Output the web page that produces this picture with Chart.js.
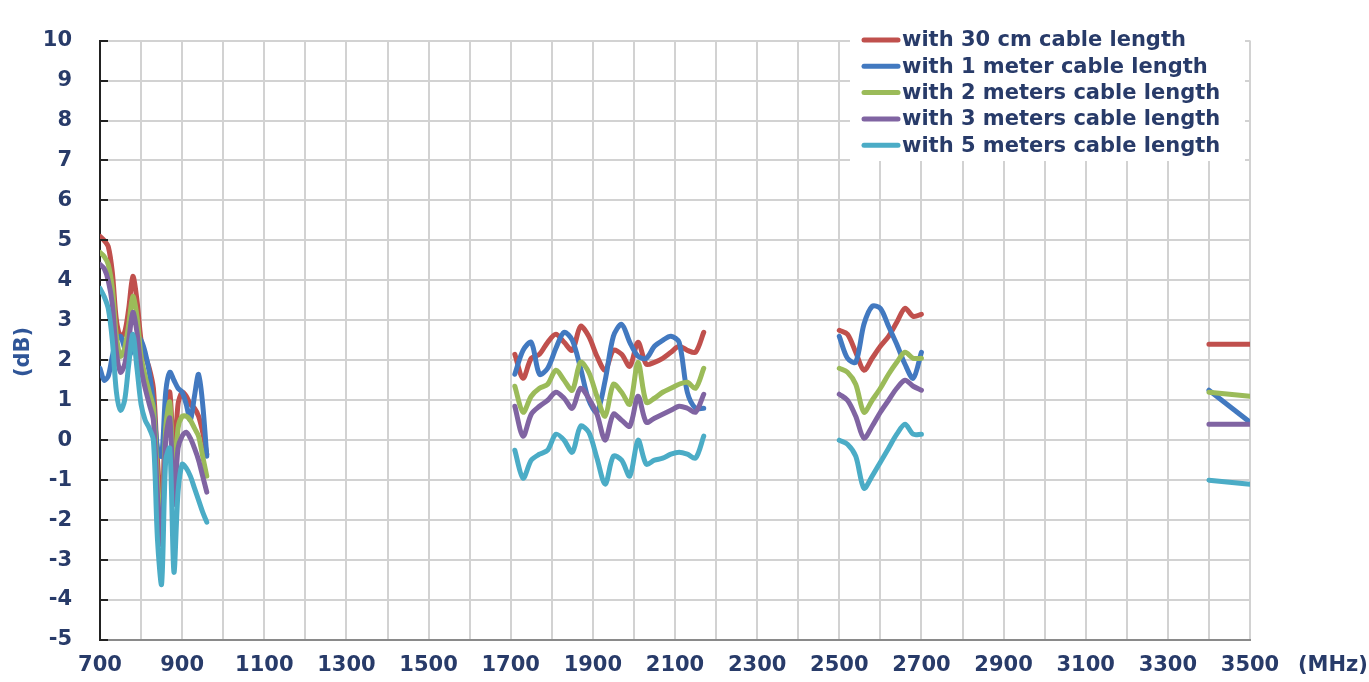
<!DOCTYPE html>
<html>
<head>
<meta charset="utf-8">
<script src="https://cdn.jsdelivr.net/npm/chart.js@4/dist/chart.umd.min.js"></script>
<style>
  html, body { margin: 0; background: #fff; }
  #wrap { width: 1369px; height: 682px; position: relative; }
</style>
</head>
<body>
<div id="wrap"><canvas id="chart"></canvas></div>
<script>
// Frequency points (MHz) of the four measured bands
const freqLow = [700, 710, 720, 730, 740, 750, 760, 770, 780, 790, 800, 810, 820, 830, 840, 850, 860, 870, 880, 890, 900, 910, 920, 930, 940, 950, 960];
const freqMid = [1710, 1730, 1750, 1770, 1790, 1810, 1830, 1850, 1870, 1890, 1910, 1930, 1950, 1970, 1990, 2010, 2030, 2050, 2070, 2090, 2110, 2130, 2150, 2170];
const freqHigh = [2500, 2520, 2540, 2560, 2580, 2600, 2620, 2640, 2660, 2680, 2700];
const freqTop = [3400, 3500];
const bands = [freqLow, freqMid, freqHigh, freqTop];

// dB values per cable, one list per band
const cable30cm = [
  [5.1, 5.0, 4.85, 4.2, 3.0, 2.6, 2.7, 3.3, 4.1, 3.5, 2.5, 2.1, 1.8, 1.3, -0.5, -1.8, 0.5, 1.2, -0.5, 0.9, 1.2, 1.1, 0.9, 0.8, 0.6, 0.2, -0.35],
  [2.15, 1.55, 2.05, 2.15, 2.45, 2.65, 2.45, 2.25, 2.85, 2.6, 2.1, 1.75, 2.25, 2.15, 1.85, 2.45, 1.9, 1.95, 2.05, 2.2, 2.35, 2.25, 2.2, 2.7],
  [2.75, 2.65, 2.2, 1.75, 2.05, 2.35, 2.6, 2.95, 3.3, 3.1, 3.15],
  [2.4, 2.4]
];
const cable1m = [
  [1.8, 1.5, 1.6, 2.1, 2.5, 2.6, 2.3, 2.1, 2.3, 2.6, 2.5, 2.2, 1.7, 0.9, -0.2, -0.4, 1.2, 1.7, 1.5, 1.3, 1.2, 0.9, 0.5, 1.1, 1.65, 0.9, -0.4],
  [1.65, 2.25, 2.45, 1.65, 1.8, 2.3, 2.7, 2.5, 1.8, 1.0, 0.7, 1.5, 2.6, 2.9, 2.45, 2.1, 2.05, 2.35, 2.5, 2.6, 2.45, 1.2, 0.8, 0.8],
  [2.6, 2.05, 1.95, 2.9, 3.35, 3.3, 2.85, 2.4, 1.9, 1.55, 2.2],
  [1.25, 0.45]
];
const cable2m = [
  [4.7, 4.6, 4.4, 3.8, 2.6, 2.1, 2.3, 2.9, 3.6, 3.1, 2.1, 1.6, 1.2, 0.8, -1.0, -2.4, 0.3, 0.95, -1.2, 0.3, 0.6, 0.6, 0.5, 0.3, 0.1, -0.4, -0.9],
  [1.35, 0.7, 1.1, 1.3, 1.4, 1.75, 1.5, 1.25, 1.95, 1.7, 1.1, 0.6, 1.4, 1.2, 0.9, 1.95, 0.95, 1.05, 1.2, 1.3, 1.4, 1.45, 1.3, 1.8],
  [1.8, 1.7, 1.4, 0.7, 1.0, 1.3, 1.65, 1.95, 2.2, 2.05, 2.05],
  [1.2, 1.1]
];
const cable3m = [
  [4.4, 4.3, 4.0, 3.4, 2.2, 1.7, 1.9, 2.5, 3.2, 2.7, 1.8, 1.3, 0.9, 0.5, -1.4, -2.6, 0.0, 0.55, -1.6, -0.2, 0.1, 0.2, 0.05, -0.2, -0.5, -0.9, -1.3],
  [0.85, 0.1, 0.65, 0.85, 1.0, 1.2, 1.05, 0.8, 1.3, 1.05, 0.65, 0.0, 0.65, 0.5, 0.35, 1.1, 0.45, 0.55, 0.65, 0.75, 0.85, 0.8, 0.7, 1.15],
  [1.15, 1.0, 0.6, 0.05, 0.35, 0.7, 1.0, 1.3, 1.5, 1.35, 1.25],
  [0.4, 0.4]
];
const cable5m = [
  [3.8, 3.6, 3.3, 2.5, 1.2, 0.75, 1.0, 1.9, 2.65, 1.8, 0.9, 0.5, 0.3, 0.0, -2.5, -3.6, -0.5, -0.2, -3.3, -1.3, -0.6, -0.7, -0.9, -1.2, -1.5, -1.8, -2.05],
  [-0.25, -0.95, -0.5, -0.35, -0.25, 0.15, 0.0, -0.3, 0.35, 0.2, -0.45, -1.1, -0.4, -0.5, -0.9, 0.0, -0.6, -0.5, -0.45, -0.35, -0.3, -0.35, -0.45, 0.1],
  [0.0, -0.1, -0.4, -1.2, -0.9, -0.55, -0.2, 0.15, 0.4, 0.15, 0.15],
  [-1.0, -1.1]
];

const seriesLabels = [
  "with 30 cm cable length",
  "with 1 meter cable length",
  "with 2 meters cable length",
  "with 3 meters cable length",
  "with 5 meters cable length"
];
const seriesValues = [cable30cm, cable1m, cable2m, cable3m, cable5m];
const seriesColors = ["#C0504D", "#4279C0", "#9BBB59", "#8064A2", "#4BACC6"];

const textColor = "#283b69";
const fontFamily = "DejaVu Sans";

// band lists -> {x, y} points, with a null point between bands so the line breaks
function toPoints(parts) {
  const pts = [];
  bands.forEach((band, b) => {
    if (b > 0) pts.push({ x: (bands[b - 1][bands[b - 1].length - 1] + band[0]) / 2, y: null });
    band.forEach((f, i) => pts.push({ x: f, y: parts[b][i] }));
  });
  return pts;
}

const datasets = seriesLabels.map((label, i) => ({
  label: label,
  data: toPoints(seriesValues[i]),
  borderColor: seriesColors[i],
  backgroundColor: seriesColors[i],
  borderWidth: 5,
  borderCapStyle: "round",
  borderJoinStyle: "round",
  pointRadius: 0,
  tension: 0.3,
  spanGaps: false,
  order: seriesLabels.length - 1 - i // later series are drawn on top
}));

// legend box, axis titles and the short inside ticks on the dB axis
const decorations = {
  id: "decorations",
  beforeDatasetsDraw(chart) {
    const { ctx } = chart;
    ctx.save();
    ctx.fillStyle = "#fff";
    ctx.fillRect(850, 25, 395, 136);
    ctx.restore();
  },
  afterDraw(chart) {
    const { ctx, chartArea, scales } = chart;
    ctx.save();

    ctx.strokeStyle = "#222";
    ctx.lineWidth = 2;
    scales.y.ticks.forEach((t) => {
      const y = Math.round(scales.y.getPixelForValue(t.value));
      ctx.beginPath();
      ctx.moveTo(chartArea.left, y);
      ctx.lineTo(chartArea.left + 8, y);
      ctx.stroke();
    });

    ctx.font = `bold 21px "${fontFamily}"`;
    ctx.textBaseline = "middle";

    // legend
    seriesLabels.forEach((label, i) => {
      const y = 40 + i * 26.3;
      ctx.strokeStyle = seriesColors[i];
      ctx.lineWidth = 5;
      ctx.lineCap = "round";
      ctx.beginPath();
      ctx.moveTo(864, y);
      ctx.lineTo(898, y);
      ctx.stroke();
      ctx.fillStyle = textColor;
      ctx.textAlign = "left";
      ctx.fillText(label, 902, y + 1);
    });

    // axis titles
    ctx.fillStyle = textColor;
    ctx.textAlign = "left";
    ctx.fillText("(MHz)", 1298, chartArea.bottom + 26);

    ctx.translate(24, 352);
    ctx.rotate(-Math.PI / 2);
    ctx.textAlign = "center";
    ctx.fillStyle = "#2f5597";
    ctx.fillText("(dB)", 0, 0);

    ctx.restore();
  }
};

new Chart(document.getElementById("chart"), {
  type: "line",
  data: { datasets: datasets },
  options: {
    responsive: true,
    maintainAspectRatio: false,
    animation: false,
    layout: { padding: { top: 20, right: 119, left: 0, bottom: 0 } },
    plugins: {
      legend: { display: false },
      tooltip: { enabled: false }
    },
    scales: {
      x: {
        type: "linear",
        min: 700,
        max: 3500,
        ticks: {
          stepSize: 100,
          autoSkip: false,
          maxRotation: 0,
          padding: 13,
          color: textColor,
          font: { family: fontFamily, size: 21, weight: "bold" },
          callback: (v) => ((v - 700) % 200 === 0 ? String(v) : "")
        },
        grid: { color: "#d2d2d2", lineWidth: 2, drawTicks: false },
        border: { color: "#8a8a8a", width: 2 },
        afterFit: (scale) => { scale.height = 42; }
      },
      y: {
        min: -5,
        max: 10,
        ticks: {
          stepSize: 1,
          padding: 28,
          color: textColor,
          font: { family: fontFamily, size: 21, weight: "bold" }
        },
        grid: { color: "#d2d2d2", lineWidth: 2, drawTicks: false },
        border: { color: "#222", width: 2 },
        afterFit: (scale) => { scale.width = 100; }
      }
    }
  },
  plugins: [decorations]
});
</script>
</body>
</html>
